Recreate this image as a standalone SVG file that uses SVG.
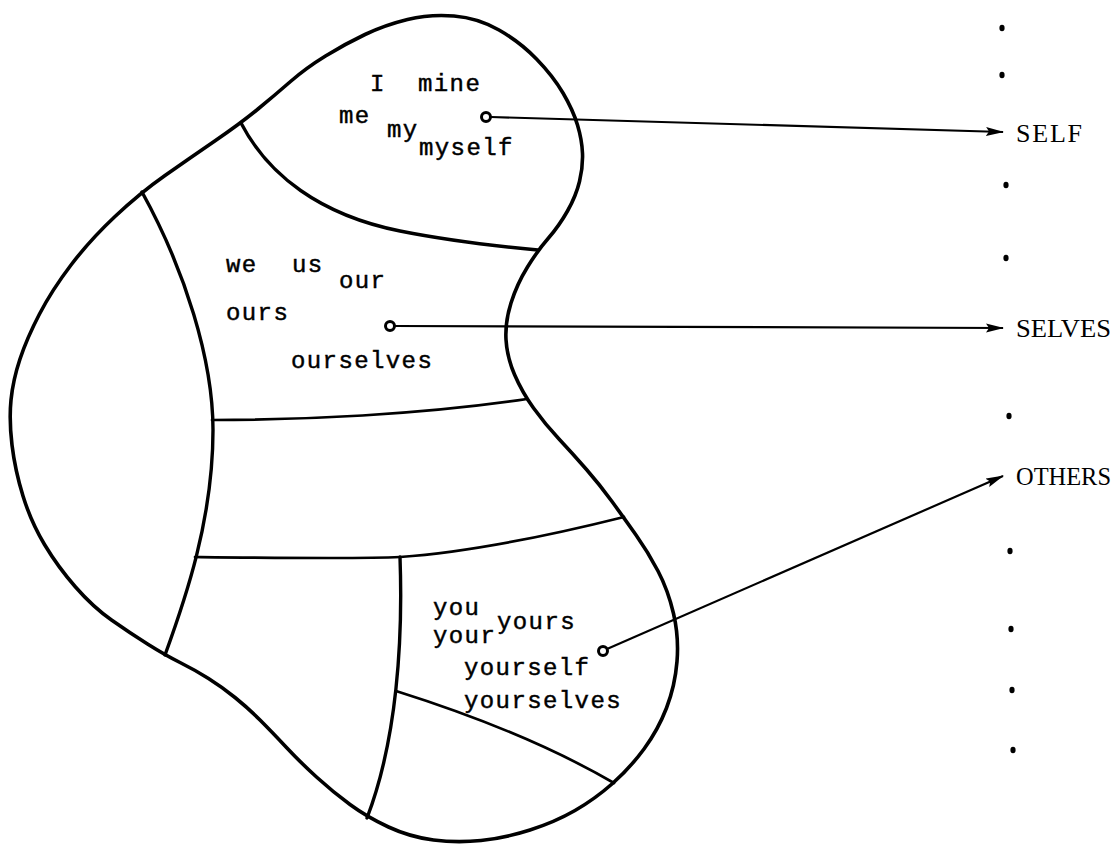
<svg xmlns="http://www.w3.org/2000/svg" width="1119" height="846" viewBox="0 0 1119 846">
<defs>
<style>
.outline{fill:none;stroke:#000;stroke-width:3.6;stroke-linejoin:round;stroke-linecap:round}
.div{fill:none;stroke:#000;stroke-width:3.4;stroke-linecap:round}
.thin{fill:none;stroke:#000;stroke-width:2.7;stroke-linecap:round}
.con{fill:none;stroke:#000;stroke-width:2.2}
.hole{fill:#fff;stroke:#000;stroke-width:3}
.tw{font-family:"Liberation Mono","DejaVu Sans Mono",monospace;font-size:24px;letter-spacing:1.4px;fill:#000;stroke:#000;stroke-width:0.45}
.lb{font-family:"Liberation Serif","DejaVu Serif",serif;font-size:26px;fill:#000}
.dot{fill:#000}
</style>
<marker id="ah" viewBox="0 0 18 10" refX="17" refY="5" markerWidth="18" markerHeight="10" markerUnits="userSpaceOnUse" orient="auto">
<path d="M0,0.5 L18,5 L0,9.5 L3,5 Z" fill="#000"/>
</marker>
</defs>
<rect width="1119" height="846" fill="#fff"/>
<g id="blob">
<path class="outline" d="M407.5,19.5 Q430,14 454,16 Q478,18 499,30 Q520,42 536.5,59 Q553,76 563,93 Q573,110 577.5,125 Q582,140 582.5,153.5 Q583,167 579.5,181.5 Q576,196 567.5,211 Q559,226 548.5,238 Q538,250 527.5,267 Q517,284 511,303 Q505,322 506,339.5 Q507,357 514.5,374.5 Q522,392 533.5,408 Q545,424 559,439 Q573,454 586.5,469.5 Q600,485 612,501.5 Q624,518 636,535 Q648,552 658,571 Q668,590 673.5,613.5 Q679,637 677,661.5 Q675,686 666.5,708 Q658,730 644,749 Q630,768 612.5,783.5 Q595,799 575,810.5 Q555,822 530,830 Q505,838 481,840.5 Q457,843 433.5,840 Q410,837 388.5,827 Q367,817 350,804.5 Q333,792 316.5,777 Q300,762 286,747 Q272,732 260,720 Q248,708 235,697.5 Q222,687 208.5,678.5 Q195,670 180,662.5 Q165,655 147.5,644 Q130,633 111.5,620 Q93,607 75.5,587 Q58,567 44.5,544.5 Q31,522 23,496 Q15,470 12,445 Q9,420 11,400 Q13,380 20,359 Q27,338 39.5,314 Q52,290 71,265 Q90,240 115,216.5 Q140,193 165,175.5 Q190,158 215.5,140.5 Q241,123 258,109 Q275,95 290.5,81.5 Q306,68 325.5,56 Q345,44 365,34.5 Q385,25 407.5,19.5 Z"/>
</g>
<g id="dividers">
<path class="div" d="M241,123 C268,175 320,215 400,231 C450,241 495,246 538,250"/>
<path class="div" d="M142,192 C185,270 213,360 213,430 C213,520 185,600 165,655"/>
<path class="thin" d="M212,420 C300,420 420,415 527,399"/>
<path class="thin" d="M195,557 C280,558 360,559 400,557 C470,552 560,533 624,517"/>
<path class="div" d="M400,557 C403,640 397,740 367,818"/>
<path class="thin" d="M396,691 C450,708 540,740 614,783"/>
</g>
<g id="region-self">
<text class="tw" x="370" y="91">I</text>
<text class="tw" x="418" y="91">mine</text>
<text class="tw" x="339" y="123">me</text>
<text class="tw" x="387" y="137">my</text>
<text class="tw" x="419" y="155">myself</text>
</g>
<g id="region-selves">
<text class="tw" x="226" y="272">we</text>
<text class="tw" x="292" y="272">us</text>
<text class="tw" x="339" y="288">our</text>
<text class="tw" x="226" y="320">ours</text>
<text class="tw" x="291" y="368">ourselves</text>
</g>
<g id="region-others">
<text class="tw" x="433" y="615">you</text>
<text class="tw" x="433" y="643">your</text>
<text class="tw" x="497" y="629">yours</text>
<text class="tw" x="464" y="675">yourself</text>
<text class="tw" x="464" y="708">yourselves</text>
</g>
<g id="connectors">
<line class="con" x1="491" y1="117" x2="1003" y2="132" marker-end="url(#ah)"/>
<line class="con" x1="395" y1="326" x2="1003" y2="328" marker-end="url(#ah)"/>
<line class="con" x1="607" y1="649" x2="1003" y2="476" marker-end="url(#ah)"/>
<circle class="hole" cx="486" cy="117" r="4.5"/>
<circle class="hole" cx="390" cy="326" r="4.5"/>
<circle class="hole" cx="603" cy="651" r="4.5"/>
</g>
<g id="scale">
<ellipse class="dot" cx="1002" cy="28" rx="2.6" ry="3.3"/>
<ellipse class="dot" cx="1002" cy="75" rx="2.6" ry="3.3"/>
<ellipse class="dot" cx="1006" cy="185" rx="2.6" ry="3.3"/>
<ellipse class="dot" cx="1006" cy="258" rx="2.6" ry="3.3"/>
<ellipse class="dot" cx="1009" cy="416" rx="2.6" ry="3.3"/>
<ellipse class="dot" cx="1010" cy="551" rx="2.6" ry="3.3"/>
<ellipse class="dot" cx="1011" cy="629" rx="2.6" ry="3.3"/>
<ellipse class="dot" cx="1012" cy="690" rx="2.6" ry="3.3"/>
<ellipse class="dot" cx="1013" cy="750" rx="2.6" ry="3.3"/>
</g>
<g id="label-self"><text class="lb" x="1016" y="142" textLength="66" lengthAdjust="spacing">SELF</text></g>
<g id="label-selves"><text class="lb" x="1016" y="337" textLength="95" lengthAdjust="spacingAndGlyphs">SELVES</text></g>
<g id="label-others"><text class="lb" x="1016" y="485" textLength="95" lengthAdjust="spacingAndGlyphs">OTHERS</text></g>
</svg>
